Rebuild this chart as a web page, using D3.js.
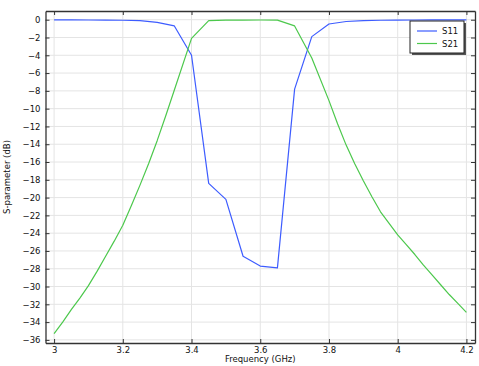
<!DOCTYPE html>
<html>
<head>
<meta charset="utf-8">
<script src="https://cdn.jsdelivr.net/npm/d3@7"></script>
<style>
  html, body { margin: 0; padding: 0; background: #fff; }
  svg { display: block; }
  text { font-family: "DejaVu Sans", sans-serif; }
</style>
</head>
<body>
<div id="chart"></div>
<script>
// ---- data ----
const freqS11 = [3.00, 3.05, 3.10, 3.15, 3.20, 3.25, 3.30, 3.35, 3.40, 3.45, 3.50, 3.55, 3.60, 3.65, 3.70, 3.75, 3.80, 3.85, 3.90, 3.95, 4.00, 4.05, 4.10, 4.15, 4.20];
const s11 = [-0.02, -0.02, -0.03, -0.04, -0.06, -0.1, -0.3, -0.7, -4.0, -18.4, -20.2, -26.6, -27.7, -27.9, -7.8, -1.9, -0.48, -0.2, -0.1, -0.06, -0.04, -0.03, -0.02, -0.02, -0.02];
const freqS21 = [3.000, 3.025, 3.050, 3.075, 3.100, 3.125, 3.150, 3.175, 3.200, 3.225, 3.250, 3.275, 3.300, 3.325, 3.350, 3.40, 3.45, 3.50, 3.55, 3.60, 3.65, 3.70, 3.75, 3.800, 3.825, 3.850, 3.875, 3.900, 3.925, 3.950, 3.975, 4.000, 4.025, 4.050, 4.075, 4.100, 4.125, 4.150, 4.175, 4.200];
const s21 = [-35.3, -34.0, -32.6, -31.3, -29.9, -28.3, -26.6, -24.9, -23.1, -20.9, -18.6, -16.2, -13.6, -10.8, -7.9, -2.1, -0.1, -0.05, -0.04, -0.03, -0.05, -0.7, -4.3, -9.1, -11.7, -14.1, -16.2, -18.1, -19.9, -21.6, -22.9, -24.2, -25.3, -26.4, -27.6, -28.7, -29.8, -30.9, -31.9, -32.9];
const seriesNames = ["S11", "S21"];
const xTicks = [3, 3.2, 3.4, 3.6, 3.8, 4, 4.2];
const yTicks = [0, -2, -4, -6, -8, -10, -12, -14, -16, -18, -20, -22, -24, -26, -28, -30, -32, -34, -36];
const colors = ["#3d5cff", "#4cc84c"];

// ---- layout ----
const W = 479, H = 366;
const m = { left: 45.5, top: 11, right: 475, bottom: 343 };

const svg = d3.select("#chart").append("svg").attr("width", W).attr("height", H);

const x = d3.scaleLinear().domain([2.975, 4.225]).range([m.left, m.right]);
const y = d3.scaleLinear().domain([-36.35, 0.98]).range([m.bottom, m.top]);

// grid
const grid = svg.append("g");
grid.selectAll("line.vx").data(xTicks).enter().append("line")
  .attr("x1", d => x(d)).attr("x2", d => x(d)).attr("y1", m.top).attr("y2", m.bottom)
  .attr("stroke", "#e4e4e4").attr("stroke-width", 1);
grid.selectAll("line.hy").data(yTicks).enter().append("line")
  .attr("x1", m.left).attr("x2", m.right).attr("y1", d => y(d)).attr("y2", d => y(d))
  .attr("stroke", "#e4e4e4").attr("stroke-width", 1);

// lines
const series = [[freqS11, s11], [freqS21, s21]];
series.forEach(([fx, s], k) => {
  const line = d3.line().x((d, i) => x(fx[i])).y(d => y(d));
  svg.append("path").datum(s).attr("d", line)
    .attr("fill", "none").attr("stroke", colors[k]).attr("stroke-width", 1.2)
    .attr("stroke-linejoin", "round");
});

// axes (ticks pointing inward)
const tickLen = 4;
const axB = svg.append("g").attr("transform", `translate(0,${m.bottom})`)
  .call(d3.axisBottom(x).tickValues(xTicks).tickSizeInner(-tickLen).tickSizeOuter(0).tickPadding(4).tickFormat(d3.format("")));
const axT = svg.append("g").attr("transform", `translate(0,${m.top})`)
  .call(d3.axisTop(x).tickValues(xTicks).tickSizeInner(-tickLen).tickSizeOuter(0).tickFormat(""));
const axL = svg.append("g").attr("transform", `translate(${m.left},0)`)
  .call(d3.axisLeft(y).tickValues(yTicks).tickSizeInner(-tickLen).tickSizeOuter(0).tickPadding(5).tickFormat(d3.format("")));
const axR = svg.append("g").attr("transform", `translate(${m.right},0)`)
  .call(d3.axisRight(y).tickValues(yTicks).tickSizeInner(-tickLen).tickSizeOuter(0).tickFormat(""));

[axB, axT, axL, axR].forEach(a => {
  a.select(".domain").attr("stroke", "#333").attr("stroke-width", 1.3);
  a.selectAll(".tick line").attr("stroke", "#333");
  a.selectAll("text").attr("font-family", "DejaVu Sans, sans-serif").attr("font-size", 8.5).attr("fill", "#111");
});

// axis titles
svg.append("text").attr("x", (m.left + m.right) / 2).attr("y", 362)
  .attr("text-anchor", "middle").attr("font-size", 8.5).attr("fill", "#111").text("Frequency (GHz)");
svg.append("text").attr("transform", `translate(10,${(m.top + m.bottom) / 2}) rotate(-90)`)
  .attr("text-anchor", "middle").attr("font-size", 8.5).attr("fill", "#111").text("S-parameter (dB)");

// legend
const lg = svg.append("g");
const lx = 410, ly = 21, lw = 54, lh = 32;
lg.append("rect").attr("x", lx + 2).attr("y", ly + 2).attr("width", lw).attr("height", lh).attr("fill", "#555");
lg.append("rect").attr("x", lx).attr("y", ly).attr("width", lw).attr("height", lh)
  .attr("fill", "#fff").attr("stroke", "#222").attr("stroke-width", 1);
seriesNames.forEach((n, k) => {
  const yy = ly + 10 + k * 12.5;
  lg.append("line").attr("x1", lx + 7).attr("x2", lx + 27).attr("y1", yy).attr("y2", yy)
    .attr("stroke", colors[k]).attr("stroke-width", 1.2);
  lg.append("text").attr("x", lx + 32).attr("y", yy + 3).attr("font-size", 8.5).attr("fill", "#111").text(n);
});
</script>
</body>
</html>
